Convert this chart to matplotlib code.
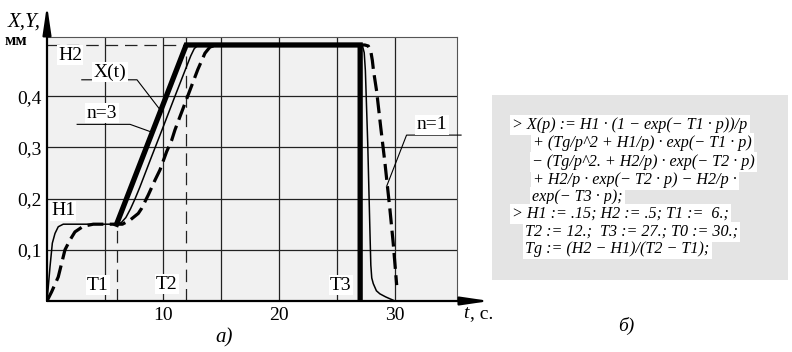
import matplotlib
matplotlib.use('Agg')
import matplotlib.pyplot as plt
from matplotlib.patches import Rectangle

plt.rcParams['font.family'] = ['Liberation Serif', 'DejaVu Serif']

# parameters of the input
H1, H2, T1, T2, T3 = 0.15, 0.5, 6, 12, 27

x_ticks = [10, 20, 30]
y_ticks = [0.1, 0.2, 0.3, 0.4]
y_labels = ['0,1', '0,2', '0,3', '0,4']

# input X(t) (thick line)
xt_t = [6, 12, 27, 27]
xt_v = [0.15, 0.5, 0.5, 0.0]

# response n=3 (thin line)
n3_t = [0, 0.1, 0.26, 0.46, 0.69, 0.97, 1.4, 6.0, 6.4, 6.8, 7.2, 7.6, 8.0, 9.0, 10.0,
        11.0, 12.0, 12.4, 12.7, 13.0, 13.3, 27.0, 27.2, 27.35, 27.45, 27.55, 27.65,
        27.75, 27.85, 27.92, 28.0, 28.13, 28.4, 28.7, 29.2, 29.6, 30.0]
n3_v = [0, 0.025, 0.067, 0.113, 0.132, 0.145, 0.15, 0.15, 0.153, 0.163, 0.18, 0.2, 0.222,
        0.281, 0.339, 0.398, 0.456, 0.479, 0.493, 0.499, 0.5, 0.5, 0.498, 0.485, 0.45,
        0.38, 0.31, 0.22, 0.13, 0.07, 0.045, 0.034, 0.02, 0.014, 0.008, 0.004, 0.0]

# response n=1 (dashed line)
n1_t = [0, 0.4, 0.97, 1.55, 1.98, 2.41, 3.13, 3.99, 6.5, 7.16, 7.87, 8.16, 8.73, 9.31,
        9.74, 10.32, 10.75, 11.03, 12.33, 13.0, 13.62, 14.05, 14.6, 27.4, 27.7, 27.9,
        28.05, 28.15, 28.42, 28.77, 29.14, 29.57, 29.85, 30.15]
n1_v = [0, 0.018, 0.047, 0.1, 0.119, 0.135, 0.146, 0.15, 0.15, 0.158, 0.171, 0.181, 0.207,
        0.236, 0.256, 0.292, 0.314, 0.334, 0.412, 0.452, 0.484, 0.496, 0.5, 0.5, 0.498,
        0.49, 0.47, 0.45, 0.41, 0.34, 0.269, 0.178, 0.113, 0.031]

# leader lines for the labels
lead_x_t, lead_x_v = [3.0, 7.76, 9.8], [0.432, 0.432, 0.372]
lead_n3_t, lead_n3_v = [2.6, 7.16, 9.0], [0.345, 0.345, 0.33]
lead_n1_t, lead_n1_v = [35.7, 31.0, 29.3], [0.324, 0.324, 0.225]

code_lines = [
    '> X(p) := H1 · (1 − exp(− T1 · p))/p',
    '+ (Tg/p^2 + H1/p) · exp(− T1 · p)',
    '− (Tg/p^2. + H2/p) · exp(− T2 · p)',
    '+ H2/p · exp(− T2 · p) − H2/p ·',
    'exp(− T3 · p);',
    '> H1 := .15; H2 := .5; T1 :=  6.;',
    'T2 := 12.;  T3 := 27.; T0 := 30.;',
    'Tg := (H2 − H1)/(T2 − T1);',
]
code_x = [512, 533, 532, 533, 532, 512, 525, 525]
code_y = [125, 143, 162, 180, 197, 214, 232, 249]

W, H = 792, 352
fig = plt.figure(figsize=(W / 100, H / 100), dpi=100)
ax = fig.add_axes([47 / W, 51 / H, 410 / W, 263.7 / H])
ax.set_facecolor('#f1f1f1')
ax.set_xlim(0, 35.35)
ax.set_ylim(0, 0.515)

for g in [5, 10, 15, 20, 25, 30]:
    ax.axvline(g, color='#222222', lw=0.9, zorder=1)
for g in y_ticks:
    ax.axhline(g, color='#222222', lw=0.9, zorder=1)

for s in ['left', 'bottom']:
    ax.spines[s].set_visible(False)
for s in ['top', 'right']:
    ax.spines[s].set_color('#555555')
    ax.spines[s].set_linewidth(0.8)

ax.set_xticks(x_ticks)
ax.set_xticklabels([str(v) for v in x_ticks])
ax.set_yticks(y_ticks)
ax.set_yticklabels(y_labels)
ax.tick_params(length=0, labelsize=14, pad=4)

# axis arrows
arrow = dict(arrowstyle='-|>,head_length=1.7,head_width=0.25', color='k', lw=1.6,
             shrinkA=0, shrinkB=0)
ax.annotate('', xy=(0, 1.122), xytext=(0, 0), xycoords='axes fraction',
            textcoords='axes fraction', arrowprops=arrow, annotation_clip=False)
ax.annotate('', xy=(1.08, 0), xytext=(0, 0), xycoords='axes fraction',
            textcoords='axes fraction', arrowprops=arrow, annotation_clip=False)

# reference dashed lines
ref = dict(color='#222222', lw=0.9, ls=(0, (10, 5.5)), zorder=2)
ax.plot([T1, T1], [0, H1], **ref)
ax.plot([T2, T2], [0, 0.515], **ref)
ax.plot([0, T2], [H2, H2], **ref)

ax.plot(n1_t, n1_v, color='k', lw=2.3, ls=(0, (5, 2)), zorder=3)
ax.plot(n3_t, n3_v, color='k', lw=1.1, zorder=4)
ax.plot(xt_t, xt_v, color='k', lw=3.8, zorder=5, solid_joinstyle='miter')

lead = dict(color='k', lw=0.8, zorder=6, clip_on=False)
ax.plot(lead_x_t, lead_x_v, **lead)
ax.plot(lead_n3_t, lead_n3_v, **lead)
ax.plot(lead_n1_t, lead_n1_v, **lead)

box = dict(fc='white', ec='none', pad=1)
lab = dict(fontsize=14, ha='center', va='center', bbox=box, zorder=7)
ax.text(1.98, 0.48, 'H2', **lab)
ax.text(5.43, 0.447, 'X(t)', **lab)
ax.text(4.74, 0.367, 'n=3', **lab)
ax.text(1.38, 0.176, 'H1', **lab)
ax.text(4.4, 0.031, 'T1', **lab)
ax.text(10.34, 0.033, 'T2', **lab)
ax.text(25.34, 0.031, 'T3', **lab)
ax.text(33.2, 0.344, 'n=1', **lab)


def ftext(x, y, s, **kw):
    fig.text(x / W, 1 - y / H, s, **kw)


ftext(24, 22, 'X,Y,', fontsize=15, style='italic', ha='center', va='center')
ftext(16, 41, 'мм', fontsize=12, weight='bold', ha='center', va='center')
ftext(466, 314, 't', fontsize=14, style='italic', ha='center', va='center')
ftext(470, 314, ', с.', fontsize=14, ha='left', va='center')
ftext(224, 338, 'а)', fontsize=15, style='italic', ha='center', va='center')
ftext(626, 326, 'б)', fontsize=14, style='italic', ha='center', va='center')

fig.add_artist(Rectangle((492 / W, 1 - 280 / H), 296 / W, 185 / H,
                         transform=fig.transFigure, fc='#e4e4e4', ec='none', zorder=0))
for s, x, y in zip(code_lines, code_x, code_y):
    ftext(x, y, s, fontsize=11.6, style='italic', ha='left', va='center',
          bbox=dict(fc='white', ec='none', pad=1.6), zorder=2)

fig.savefig('out.png', dpi=100)
